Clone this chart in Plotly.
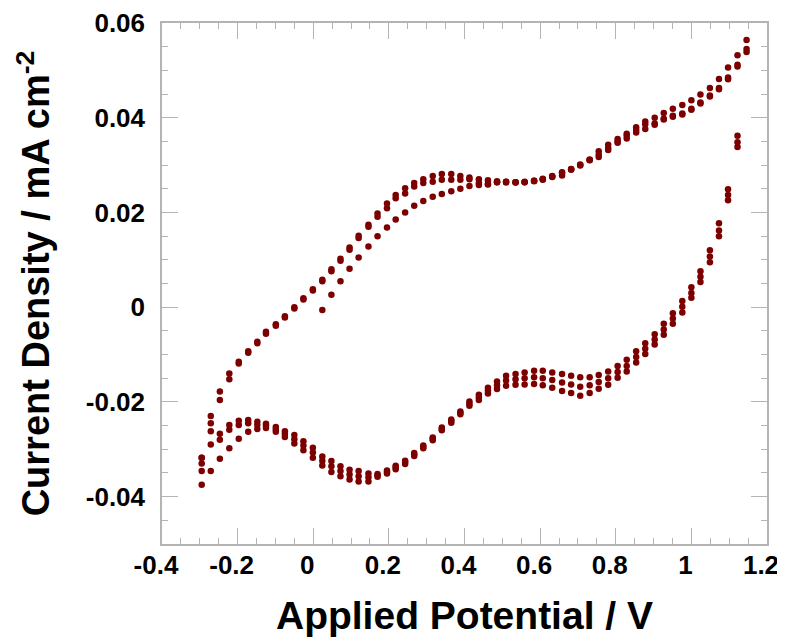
import plotly.graph_objects as go

# Potential grid (V)
potential = [-0.295, -0.271, -0.247, -0.222, -0.197, -0.172, -0.148, -0.125, -0.099, -0.075,
             -0.050, -0.026, -0.001, 0.024, 0.048, 0.072, 0.096, 0.120, 0.146, 0.170,
             0.195, 0.218, 0.243, 0.267, 0.291, 0.316, 0.340, 0.365, 0.389, 0.413,
             0.438, 0.462, 0.486, 0.510, 0.535, 0.559, 0.584, 0.607, 0.632, 0.658,
             0.682, 0.706, 0.731, 0.755, 0.780, 0.805, 0.829, 0.854, 0.878, 0.903,
             0.927, 0.951, 0.976, 1.000, 1.024, 1.049, 1.073, 1.097, 1.122, 1.146]

# Anodic sweeps (mA cm^-2)
anodic_1 = [-0.0006, 0.0026, 0.0055, 0.0081, 0.0105, 0.0128, 0.0150,
            0.0168, 0.0185, 0.0200, 0.0214, 0.0224, 0.0233, 0.0239, 0.0245, 0.0250, 0.0256,
            0.0258, 0.0259, 0.0264, 0.0265, 0.0264, 0.0264, 0.0267, 0.0270, 0.0276, 0.0284,
            0.0291, 0.0300, 0.0311, 0.0322, 0.0336, 0.0350, 0.0362, 0.0374, 0.0386, 0.0400,
            0.0410, 0.0419, 0.0427, 0.0437, 0.0449, 0.0463, 0.0482, 0.0506, 0.0532, 0.0564]

anodic_2 = [-0.0318, -0.0230, -0.0178, -0.0140, -0.0115, -0.0093, -0.0073, -0.0052, -0.0036, -0.0019,
            0.0000, 0.0019, 0.0038, 0.0058, 0.0080, 0.0102, 0.0126, 0.0151, 0.0174, 0.0198,
            0.0219, 0.0237, 0.0251, 0.0262, 0.0270, 0.0277, 0.0281, 0.0281, 0.0277, 0.0274,
            0.0270, 0.0268, 0.0266, 0.0265, 0.0264, 0.0265, 0.0267, 0.0271, 0.0277, 0.0285,
            0.0292, 0.0301, 0.0312, 0.0329, 0.0343, 0.0355, 0.0366, 0.0380, 0.0392, 0.0388,
            0.0398, 0.0404, 0.0409, 0.0419, 0.0432, 0.0447, 0.0463, 0.0485, 0.0512, 0.0545]

anodic_3 = [-0.0346, -0.0245, -0.0196, -0.0152, -0.0119, -0.0096, -0.0076, -0.0056, -0.0039, -0.0022,
            -0.0003, 0.0016, 0.0035, 0.0055, 0.0076, 0.0098, 0.0121, 0.0146, 0.0170, 0.0191,
            0.0209, 0.0230, 0.0240, 0.0255, 0.0262, 0.0265, 0.0269, 0.0269, 0.0269, 0.0270,
            0.0262, 0.0260, 0.0264, 0.0263, 0.0263, 0.0264, 0.0266, 0.0269, 0.0275, 0.0278,
            0.0290, 0.0299, 0.0310, 0.0317, 0.0332, 0.0347, 0.0356, 0.0369, 0.0376, 0.0385,
            0.0396, 0.0402, 0.0407, 0.0417, 0.0430, 0.0445, 0.0460, 0.0481, 0.0508, 0.0539]

# Cathodic sweeps (listed in ascending potential order, -0.295 ... 1.122)
cathodic_1 = [-0.0318, -0.0262, -0.0267, -0.0249, -0.0240, -0.0238, -0.0242, -0.0246, -0.0253, -0.0262,
              -0.0270, -0.0283, -0.0297, -0.0315, -0.0325, -0.0336, -0.0343, -0.0346, -0.0351, -0.0352,
              -0.0345, -0.0335, -0.0324, -0.0308, -0.0292, -0.0275, -0.0254, -0.0237, -0.0220, -0.0199,
              -0.0185, -0.0170, -0.0157, -0.0145, -0.0141, -0.0138, -0.0134, -0.0134, -0.0138, -0.0141,
              -0.0145, -0.0148, -0.0148, -0.0143, -0.0136, -0.0124, -0.0111, -0.0093, -0.0076, -0.0057,
              -0.0035, -0.0013, 0.0013, 0.0042, 0.0076, 0.0120, 0.0177, 0.0249, 0.0362]

cathodic_2 = [-0.0330, -0.0290, -0.0280, -0.0259, -0.0249, -0.0245, -0.0249, -0.0250, -0.0258, -0.0268,
              -0.0279, -0.0292, -0.0307, -0.0324, -0.0336, -0.0346, -0.0353, -0.0357, -0.0359, -0.0355,
              -0.0348, -0.0338, -0.0327, -0.0311, -0.0295, -0.0278, -0.0257, -0.0240, -0.0223, -0.0204,
              -0.0190, -0.0176, -0.0165, -0.0155, -0.0152, -0.0150, -0.0148, -0.0150, -0.0154, -0.0159,
              -0.0163, -0.0168, -0.0165, -0.0158, -0.0150, -0.0137, -0.0124, -0.0105, -0.0088, -0.0068,
              -0.0047, -0.0024, 0.0001, 0.0030, 0.0064, 0.0107, 0.0162, 0.0237, 0.0348]

cathodic_3 = [-0.0375, -0.0346, -0.0320, -0.0298, -0.0278, -0.0263, -0.0257, -0.0255, -0.0263, -0.0274,
              -0.0288, -0.0302, -0.0318, -0.0334, -0.0348, -0.0357, -0.0364, -0.0368, -0.0368, -0.0358,
              -0.0351, -0.0342, -0.0331, -0.0314, -0.0298, -0.0281, -0.0260, -0.0244, -0.0226, -0.0208,
              -0.0196, -0.0182, -0.0173, -0.0166, -0.0164, -0.0163, -0.0162, -0.0165, -0.0170, -0.0177,
              -0.0181, -0.0187, -0.0181, -0.0172, -0.0164, -0.0149, -0.0136, -0.0117, -0.0099, -0.0079,
              -0.0058, -0.0035, -0.0011, 0.0020, 0.0053, 0.0095, 0.0150, 0.0226, 0.0338]

x_tickvals = [-0.4, -0.2, 0, 0.2, 0.4, 0.6, 0.8, 1, 1.2]
x_ticktext = ["-0.4", "-0.2", "0", "0.2", "0.4", "0.6", "0.8", "1", "1.2"]
y_tickvals = [-0.04, -0.02, 0, 0.02, 0.04, 0.06]
y_ticktext = ["-0.04", "-0.02", "0", "0.02", "0.04", "0.06"]

COLOR = "#7d0000"
FONT = "Liberation Sans, Arial, sans-serif"
GRID = "#b4b4b4"

fig = go.Figure()
series = [
    (potential[13:], anodic_1),
    (potential, anodic_2),
    (potential, anodic_3),
    (potential[:59], cathodic_1),
    (potential[:59], cathodic_2),
    (potential[:59], cathodic_3),
]
for xs, ys in series:
    fig.add_trace(go.Scatter(x=xs, y=ys, mode="markers",
                             marker=dict(color=COLOR, size=6.5, line=dict(width=0)),
                             showlegend=False, hoverinfo="x+y"))

axis_common = dict(
    showgrid=False, zeroline=False, showline=True, linecolor=GRID, linewidth=1.5,
    mirror="ticks", ticks="inside", tickcolor=GRID, tickwidth=1.2, ticklen=16,
    tickfont=dict(family=FONT, size=26, color="black", weight="bold"),
    automargin=False, ticklabeloverflow="allow",
)

fig.update_xaxes(
    range=[-0.4, 1.2], tickvals=x_tickvals, ticktext=x_ticktext,
    minor=dict(dtick=0.05, tick0=0, ticks="inside", ticklen=6, tickcolor=GRID, tickwidth=1.2),
    title=dict(text="Applied Potential / V", font=dict(family=FONT, size=39, color="black", weight="bold"),
               standoff=27),
    ticklabelstandoff=-3, ticklabelshift=-6,
    **axis_common,
)
fig.update_yaxes(
    range=[-0.05, 0.06], tickvals=y_tickvals, ticktext=y_ticktext,
    minor=dict(dtick=0.005, tick0=0, ticks="inside", ticklen=6, tickcolor=GRID, tickwidth=1.2),
    title=dict(text="Current Density / mA cm<sup>-2</sup>",
               font=dict(family=FONT, size=38, color="black", weight="bold"), standoff=24),
    ticklabelstandoff=10,
    **axis_common,
)

# the page body adds an 8 px offset, so the figure is sized to fit the 785x637 window
fig.update_layout(
    width=777, height=629,
    margin=dict(l=154, r=18, t=15, b=93),
    paper_bgcolor="white", plot_bgcolor="white",
)

fig.write_html("out.html")
